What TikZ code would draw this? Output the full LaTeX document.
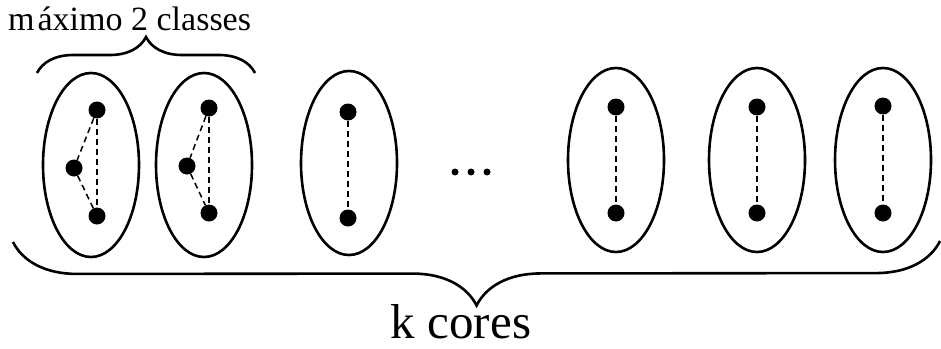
\documentclass[tikz,border=0pt]{standalone}
\usepackage{fontspec}
\setmainfont{Liberation Serif}
\usetikzlibrary{shapes.geometric, decorations.pathreplacing, positioning}

\begin{document}
\begin{tikzpicture}[
  x=1pt, y=-1pt,
  core/.style={ellipse, draw, line width=2.6pt, minimum width=96pt,
               minimum height=184pt, inner sep=0pt},
  vtx/.style={circle, fill=black, inner sep=0pt, minimum size=17pt},
  dotsmall/.style={circle, fill=black, inner sep=0pt, minimum size=7pt},
  edge/.style={dashed, line width=1.5pt, dash pattern=on 6pt off 4pt},
  brc/.style={decorate, line width=2.6pt}
]
  \useasboundingbox (0,0) rectangle (941,348);
  % cores (ellipses)
  \node[core] (c1) at (91,165) {};
  \node[core] (c2) at (204,165) {};
  \node[core] (c3) at (349,163) {};
  \node[core] (c4) at (616,160) {};
  \node[core] (c5) at (757,160) {};
  \node[core] (c6) at (883,160) {};
  % vertices
  \node[vtx] (a1) at (97,110) {};
  \node[vtx] (a2) at (74,168) {};
  \node[vtx] (a3) at (97,216) {};
  \node[vtx] (b1) at (209,108) {};
  \node[vtx] (b2) at (187,166) {};
  \node[vtx] (b3) at (209,213) {};
  \node[vtx] (d1) at (348,112) {};
  \node[vtx] (d2) at (348,218) {};
  \node[vtx] (e1) at (616,107) {};
  \node[vtx] (e2) at (616,213) {};
  \node[vtx] (f1) at (757,107) {};
  \node[vtx] (f2) at (757,213) {};
  \node[vtx] (g1) at (883,106) {};
  \node[vtx] (g2) at (883,213) {};
  \draw[edge] (a1)--(a2); \draw[edge] (a2)--(a3); \draw[edge] (a1)--(a3);
  \draw[edge] (b1)--(b2); \draw[edge] (b2)--(b3); \draw[edge] (b1)--(b3);
  \draw[edge] (d1)--(d2);
  \draw[edge] (e1)--(e2);
  \draw[edge] (f1)--(f2);
  \draw[edge] (g1)--(g2);
  % ellipsis
  \node[dotsmall] (p1) at (455,172) {};
  \node[dotsmall] (p2) at (471,172) {};
  \node[dotsmall] (p3) at (487,172) {};
  % braces
  \coordinate (tl) at (37,73);
  \coordinate (tr) at (255,73);
  \coordinate (bl) at (13,242);
  \coordinate (br) at (940,241);
  \draw[brc, decoration={brace, amplitude=36pt}] (tl) -- (tr);
  \draw[brc, decoration={brace, mirror, amplitude=64pt}] (bl) -- (br);
  % labels
  \node[anchor=base west, inner sep=0pt, font=\fontsize{34}{36}\selectfont]
        (maxc) at (8,30) {m\kern3pt áximo 2 classes};
  \node[anchor=base, inner sep=0pt, font=\fontsize{49}{52}\selectfont]
        (kcores) at (461,338) {k cores};
\end{tikzpicture}
\end{document}
